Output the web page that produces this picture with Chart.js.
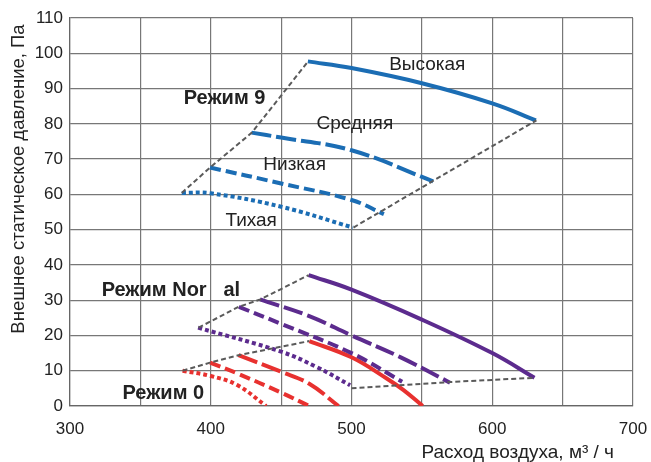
<!DOCTYPE html>
<html>
<head>
<meta charset="utf-8">
<script src="https://cdn.jsdelivr.net/npm/chart.js@4"></script>
<style>
  html, body { margin: 0; padding: 0; background: #fff; }
  #wrap { width: 651px; height: 462px; }
</style>
</head>
<body>
<div id="wrap"><canvas id="chart" width="651" height="462"></canvas></div>
<script>
// Режим 9 (blue)
const flowHigh9 = [469, 500, 550, 600, 631];
const pressHigh9 = [97.7, 95.8, 91.5, 85.8, 81.0];
const flowMid9 = [429, 450, 500, 558];
const pressMid9 = [77.5, 76.1, 72.5, 63.7];
const flowLow9 = [399.5, 450, 500, 523];
const pressLow9 = [67.6, 63.1, 58.4, 54.4];
const flowQuiet9 = [379.4, 400, 450, 501];
const pressQuiet9 = [60.4, 60.3, 56.5, 50.6];

// Режим Normal (purple)
const flowHighN = [469.5, 500, 550, 600, 630];
const pressHighN = [37.1, 33, 24.5, 15, 8];
const flowMidN = [435, 470, 500, 535, 570];
const pressMidN = [30.2, 25.5, 20, 13.8, 6.6];
const flowLowN = [420, 450, 500, 536];
const pressLowN = [28.1, 23.3, 15, 6.9];
const flowQuietN = [391, 450, 475, 499];
const pressQuietN = [22.2, 15.4, 11.1, 5.9];

// Режим 0 (red)
const flowHigh0 = [470, 500, 525, 537, 550.6];
const pressHigh0 = [18.4, 13.8, 7.8, 4.5, 0];
const flowMid0 = [419.7, 450, 470, 490.8];
const pressMid0 = [14.4, 9.7, 6.3, 0];
const flowLow0 = [399.5, 418.5, 450, 470];
const pressLow0 = [12.3, 9.3, 3.8, 0];
const flowQuiet0 = [380, 400, 418.5, 439.4];
const pressQuiet0 = [10, 8.5, 6, 0];

// grey boundary lines joining the curve ends
const flowLeft9 = [379.4, 399.5, 429.2, 469.2];
const pressLeft9 = [60.4, 67.6, 77.5, 97.7];
const flowRight9 = [501.4, 631.4];
const pressRight9 = [50.6, 81];
const flowLeftN = [391.3, 419.7, 435.2, 469.5];
const pressLeftN = [22.2, 28.1, 30.2, 37.1];
const flowRightN = [500, 570, 630];
const pressRightN = [5, 6.8, 8];
const flowLeft0 = [380, 399.5, 419.7, 470];
const pressLeft0 = [10, 12.3, 14.4, 18.4];

const BLUE = "#1b6db4";
const PURPLE = "#5c2b8e";
const RED = "#e8312f";
const GREY = "#5a5a5a";

const SOLID = [];
const LONG = [20, 5];
const MEDIUM = [11, 5];
const DOTS = [4, 3];

const FONT = "'Liberation Sans', Arial, sans-serif";

function pts(xs, ys) {
  return xs.map((x, i) => ({ x: x, y: ys[i] }));
}

function curve(xs, ys, color, dash) {
  return {
    data: pts(xs, ys),
    borderColor: color,
    borderWidth: 4,
    borderDash: dash,
    borderCapStyle: "butt",
    showLine: true,
    pointRadius: 0,
    tension: 0.4,
    fill: false,
  };
}

function edge(xs, ys) {
  return {
    data: pts(xs, ys),
    borderColor: GREY,
    borderWidth: 2,
    borderDash: [5, 3],
    showLine: true,
    pointRadius: 0,
    tension: 0,
    fill: false,
  };
}

const datasets = [
  edge(flowLeft9, pressLeft9),
  edge(flowRight9, pressRight9),
  edge(flowLeftN, pressLeftN),
  edge(flowRightN, pressRightN),
  edge(flowLeft0, pressLeft0),
  curve(flowHigh9, pressHigh9, BLUE, SOLID),
  curve(flowMid9, pressMid9, BLUE, LONG),
  curve(flowLow9, pressLow9, BLUE, MEDIUM),
  curve(flowQuiet9, pressQuiet9, BLUE, DOTS),
  curve(flowHighN, pressHighN, PURPLE, SOLID),
  curve(flowMidN, pressMidN, PURPLE, LONG),
  curve(flowLowN, pressLowN, PURPLE, MEDIUM),
  curve(flowQuietN, pressQuietN, PURPLE, DOTS),
  curve(flowHigh0, pressHigh0, RED, SOLID),
  curve(flowMid0, pressMid0, RED, LONG),
  curve(flowLow0, pressLow0, RED, MEDIUM),
  curve(flowQuiet0, pressQuiet0, RED, DOTS),
];

// Labels placed in data coordinates
const labels = [
  { text: "Высокая", x: 553.8, y: 96.6, bold: false, align: "center" },
  { text: "Средняя", x: 502.4, y: 79.9, bold: false, align: "center" },
  { text: "Низкая", x: 459.6, y: 68.3, bold: false, align: "center" },
  { text: "Тихая", x: 428.7, y: 52.5, bold: false, align: "center" },
  { text: "Режим 9", x: 409.8, y: 87.2, bold: true, align: "center" },
  { text: "Режим Nor", x: 322.5, y: 32.7, bold: true, align: "left" },
  { text: "al", x: 409, y: 32.7, bold: true, align: "left" },
  { text: "Режим 0", x: 366.3, y: 3.6, bold: true, align: "center" },
];

const textPlugin = {
  id: "texts",
  afterDatasetsDraw(chart) {
    const ctx = chart.ctx;
    const xs = chart.scales.x;
    const ys = chart.scales.y;
    ctx.save();
    ctx.fillStyle = "#222";
    ctx.textBaseline = "middle";
    labels.forEach((l) => {
      ctx.font = l.bold ? "bold 20px " + FONT : "19px " + FONT;
      ctx.textAlign = l.align;
      ctx.fillText(l.text, xs.getPixelForValue(l.x), ys.getPixelForValue(l.y));
    });
    // axis titles
    ctx.font = "19px " + FONT;
    ctx.textAlign = "right";
    ctx.fillText("Расход воздуха, м³ / ч", 614, 453);
    ctx.font = "18.5px " + FONT;
    ctx.translate(19, 179);
    ctx.rotate(-Math.PI / 2);
    ctx.textAlign = "center";
    ctx.fillText("Внешнее статическое давление, Па", 0, 0);
    ctx.restore();
  },
};

new Chart(document.getElementById("chart"), {
  type: "scatter",
  data: { datasets: datasets },
  options: {
    responsive: false,
    animation: false,
    layout: { padding: { top: 18, right: 0, left: 0, bottom: 0 } },
    plugins: { legend: { display: false }, tooltip: { enabled: false } },
    scales: {
      x: {
        type: "linear",
        min: 300,
        max: 700,
        afterFit: (s) => {
          s.height = 56;
          s.paddingLeft = 0;
          s.paddingRight = 18;
        },
        border: { color: "#666", width: 1.2 },
        grid: { color: "#777", lineWidth: 1.2, drawTicks: false },
        ticks: {
          stepSize: 50,
          padding: 13,
          color: "#222",
          font: { family: FONT, size: 17 },
          callback: (v) => (v % 100 === 0 ? v : ""),
        },
      },
      y: {
        type: "linear",
        min: 0,
        max: 110,
        afterFit: (s) => { s.width = 70; },
        border: { color: "#666", width: 1.2 },
        grid: { color: "#777", lineWidth: 1.2, drawTicks: false },
        ticks: {
          stepSize: 10,
          padding: 7,
          color: "#222",
          font: { family: FONT, size: 17 },
        },
      },
    },
  },
  plugins: [textPlugin],
});
</script>
</body>
</html>
